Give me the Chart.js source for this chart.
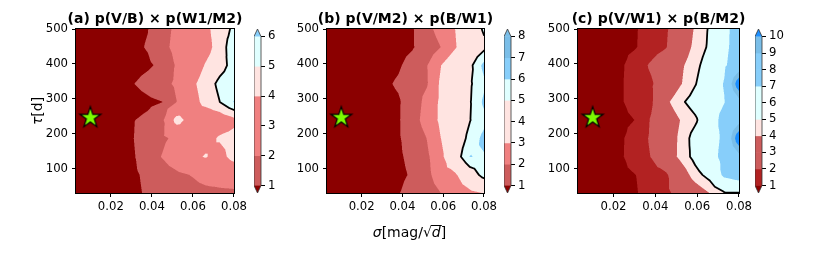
<!DOCTYPE html>
<html>
<head>
<meta charset="utf-8">
<script src="https://cdn.jsdelivr.net/npm/chart.js@4.4.1/dist/chart.umd.min.js"></script>
<style>
  body { margin: 0; background: #fff; }
  #fig { position: relative; width: 830px; height: 253px; overflow: hidden; }
  #fig canvas { position: absolute; top: 0; }
</style>
</head>
<body>
<div id="fig">
  <canvas id="panelA" width="250" height="253" style="left:0px"></canvas>
  <canvas id="panelB" width="220" height="253" style="left:280px"></canvas>
  <canvas id="panelC" width="225" height="253" style="left:530px"></canvas>
  <canvas id="barA" width="40" height="253" style="left:254px"></canvas>
  <canvas id="barB" width="40" height="253" style="left:504px"></canvas>
  <canvas id="barC" width="50" height="253" style="left:755px"></canvas>
</div>
<script>
// grid of the maps (sigma along x, tau along y)
const sigmaGrid = [0.003, 0.010, 0.017, 0.024, 0.031, 0.038, 0.045, 0.052, 0.059, 0.066, 0.073, 0.080];
const tauGrid = [30, 82, 134, 187, 239, 291, 343, 396, 448, 500];
const xTicks = [0.02, 0.04, 0.06, 0.08];
const yTicks = [100, 200, 300, 400, 500];
const starPoint = [{ x: 0.01, y: 250 }];

const titleA = "(a) p(V/B) \u00d7 p(W1/M2)";
const titleB = "(b) p(V/M2) \u00d7 p(B/W1)";
const titleC = "(c) p(V/W1) \u00d7 p(B/M2)";

const levelsA = [1, 2, 3, 4, 5, 6];
const levelsB = [1, 2, 3, 4, 5, 6, 7, 8];
const levelsC = [1, 2, 3, 4, 5, 6, 7, 8, 9, 10];
const lineLevel = 5;

// one row per tau value (bottom to top), one column per sigma value
const zA = [
  [0.25, 0.35, 0.5, 0.65, 0.85, 1.1, 1.35, 1.5, 1.6, 1.7, 1.75, 1.8],
  [0.25, 0.35, 0.45, 0.7, 0.88, 1.16, 1.45, 1.74, 2.03, 2.4, 2.6, 2.7],
  [0.2, 0.3, 0.45, 0.75, 0.94, 1.44, 2.05, 2.8, 3.6, 4.1, 3.5, 4.5],
  [0.2, 0.3, 0.45, 0.8, 0.99, 1.38, 1.78, 2.28, 2.9, 3.5, 4.15, 4.4],
  [0.2, 0.3, 0.45, 0.78, 0.97, 1.2, 1.7, 4.6, 3.4, 3.0, 3.2, 3.7],
  [0.2, 0.3, 0.4, 0.5, 0.62, 0.81, 0.99, 1.98, 3.4, 4.37, 4.99, 6.05],
  [0.2, 0.3, 0.45, 0.79, 0.98, 1.32, 1.68, 2.17, 3.67, 4.54, 5.2, 5.5],
  [0.2, 0.3, 0.4, 0.55, 0.67, 0.86, 1.21, 2.11, 3.11, 4.07, 4.68, 5.3],
  [0.2, 0.3, 0.4, 0.6, 0.83, 1.06, 1.69, 2.31, 2.93, 3.54, 4.49, 5.6],
  [0.2, 0.3, 0.4, 0.6, 0.79, 0.98, 1.57, 2.24, 2.99, 3.74, 4.47, 5.2]
];
const zB = [
  [0.2, 0.3, 0.4, 0.6, 0.78, 0.96, 1.29, 1.65, 2.01, 2.35, 2.7, 3.05],
  [0.2, 0.3, 0.4, 0.6, 0.7, 0.84, 1.09, 1.77, 2.5, 2.84, 4.19, 5.45],
  [0.2, 0.3, 0.4, 0.6, 0.72, 0.88, 1.22, 1.84, 2.7, 4.35, 6.03, 5.9],
  [0.2, 0.3, 0.4, 0.6, 0.75, 0.92, 1.37, 2.02, 3.02, 4.2, 5.3, 6.3],
  [0.2, 0.3, 0.4, 0.55, 0.73, 0.92, 1.57, 2.43, 3.2, 4.08, 4.95, 5.7],
  [0.2, 0.3, 0.4, 0.55, 0.73, 0.91, 1.45, 2.32, 3.2, 4.05, 4.9, 6.2],
  [0.2, 0.3, 0.45, 0.7, 0.86, 1.1, 1.51, 1.92, 3.2, 4.02, 4.84, 5.8],
  [0.2, 0.3, 0.4, 0.55, 0.72, 0.9, 1.31, 1.96, 3.0, 3.84, 4.67, 6.3],
  [0.2, 0.3, 0.4, 0.5, 0.6, 0.75, 0.94, 1.41, 2.02, 2.92, 3.9, 4.7],
  [0.2, 0.3, 0.4, 0.5, 0.6, 0.75, 0.94, 1.69, 2.41, 3.02, 4.18, 5.15]
];
const zC = [
  [0.2, 0.35, 0.5, 0.7, 0.96, 1.34, 1.77, 2.39, 3.2, 4.02, 4.9, 4.95],
  [0.2, 0.35, 0.5, 0.82, 1.01, 1.4, 1.79, 3.14, 4.55, 5.44, 7.37, 7.9],
  [0.2, 0.35, 0.6, 0.94, 1.4, 2.04, 3.15, 4.28, 5.38, 6.44, 7.45, 8.6],
  [0.2, 0.35, 0.6, 0.92, 1.4, 2.16, 3.15, 4.24, 5.5, 6.37, 7.3, 11.0],
  [0.2, 0.35, 0.5, 0.82, 1.03, 2.1, 3.07, 4.03, 4.78, 6.14, 7.6, 8.5],
  [0.2, 0.35, 0.6, 0.95, 1.33, 1.8, 3.72, 4.77, 5.53, 6.24, 6.95, 8.5],
  [0.2, 0.35, 0.6, 0.95, 1.36, 1.85, 2.79, 3.9, 4.92, 6.0, 7.1, 11.0],
  [0.2, 0.35, 0.6, 0.92, 1.42, 2.18, 2.98, 3.77, 4.64, 5.68, 6.79, 8.0],
  [0.2, 0.35, 0.5, 0.8, 0.98, 1.44, 1.92, 3.15, 4.31, 5.21, 6.62, 7.8],
  [0.2, 0.35, 0.5, 0.77, 0.96, 1.37, 1.83, 2.85, 4.13, 5.15, 6.59, 7.7]
];

// colours
const darkred = [139, 0, 0], firebrick = [178, 34, 34], indianred = [205, 92, 92];
const lightcoral = [240, 128, 128], mistyrose = [255, 228, 225], lightcyan = [224, 255, 255];
const lightsky = [135, 206, 250], skyblue = [122, 190, 232], dodger = [30, 144, 255];

const colorsA = [indianred, lightcoral, lightcoral, mistyrose, lightcyan];
const colorsB = [indianred, lightcoral, mistyrose, mistyrose, lightcyan, lightsky, skyblue];
const colorsC = [firebrick, indianred, indianred, mistyrose, lightcyan, lightcyan, lightsky, lightsky, skyblue];

Chart.defaults.font.family = '"DejaVu Sans"';
Chart.defaults.font.size = 11.7;
Chart.defaults.color = '#000';

function valueAt(z, vx, vy) {
  let i = 0;
  while (i < sigmaGrid.length - 2 && vx > sigmaGrid[i + 1]) i++;
  let j = 0;
  while (j < tauGrid.length - 2 && vy > tauGrid[j + 1]) j++;
  const u = (vx - sigmaGrid[i]) / (sigmaGrid[i + 1] - sigmaGrid[i]);
  const v = (vy - tauGrid[j]) / (tauGrid[j + 1] - tauGrid[j]);
  const z00 = z[j][i], z10 = z[j][i + 1], z01 = z[j + 1][i], z11 = z[j + 1][i + 1];
  const zc = (z00 + z10 + z01 + z11) / 4;
  // cell cut in 4 triangles around its centre, linear in each
  if (v <= u && v <= 1 - u) return z00 + (z10 - z00) * u + (2 * zc - z00 - z10) * v;
  if (v >= u && v >= 1 - u) return z01 + (z11 - z01) * u + (2 * zc - z01 - z11) * (1 - v);
  if (u <= v && u <= 1 - v) return z00 + (z01 - z00) * v + (2 * zc - z00 - z01) * u;
  return z10 + (z11 - z10) * v + (2 * zc - z10 - z11) * (1 - u);
}

function colorOf(v, levels, colors, under, over) {
  if (v < levels[0]) return under;
  if (v >= levels[levels.length - 1]) return over;
  let k = 0;
  while (v >= levels[k + 1]) k++;
  return colors[k];
}

function crossing(p, q, lev) {
  const t = (lev - p[2]) / (q[2] - p[2]);
  return [p[0] + t * (q[0] - p[0]), p[1] + t * (q[1] - p[1])];
}

function contourPlugin(z, levels, colors, under, over) {
  return {
    id: 'contour',
    beforeDatasetsDraw(chart) {
      const ctx = chart.ctx, a = chart.chartArea;
      const sx = chart.scales.x, sy = chart.scales.y;
      const L = Math.round(a.left), T = Math.round(a.top);
      const W = Math.round(a.right) - L, H = Math.round(a.bottom) - T;
      const img = ctx.createImageData(W, H);
      const n = 3;
      for (let py = 0; py < H; py++) {
        for (let px = 0; px < W; px++) {
          let r = 0, g = 0, b = 0;
          for (let s = 0; s < n; s++) {
            const vy = sy.getValueForPixel(T + py + (s + 0.5) / n);
            for (let k = 0; k < n; k++) {
              const vx = sx.getValueForPixel(L + px + (k + 0.5) / n);
              const c = colorOf(valueAt(z, vx, vy), levels, colors, under, over);
              r += c[0]; g += c[1]; b += c[2];
            }
          }
          const o = (py * W + px) * 4;
          img.data[o] = r / (n * n);
          img.data[o + 1] = g / (n * n);
          img.data[o + 2] = b / (n * n);
          img.data[o + 3] = 255;
        }
      }
      ctx.putImageData(img, L, T);

      // black line on level 5
      ctx.save();
      ctx.beginPath();
      ctx.rect(L, T, W, H);
      ctx.clip();
      ctx.strokeStyle = '#000';
      ctx.lineWidth = 1.8;
      ctx.lineCap = 'round';
      ctx.beginPath();
      for (let j = 0; j < tauGrid.length - 1; j++) {
        for (let i = 0; i < sigmaGrid.length - 1; i++) {
          const x0 = sx.getPixelForValue(sigmaGrid[i]), x1 = sx.getPixelForValue(sigmaGrid[i + 1]);
          const y0 = sy.getPixelForValue(tauGrid[j]), y1 = sy.getPixelForValue(tauGrid[j + 1]);
          const p00 = [x0, y0, z[j][i]], p10 = [x1, y0, z[j][i + 1]];
          const p01 = [x0, y1, z[j + 1][i]], p11 = [x1, y1, z[j + 1][i + 1]];
          const pc = [(x0 + x1) / 2, (y0 + y1) / 2, (p00[2] + p10[2] + p01[2] + p11[2]) / 4];
          [[p00, p10, pc], [p10, p11, pc], [p11, p01, pc], [p01, p00, pc]].forEach(tri => {
            const pts = [];
            [[0, 1], [1, 2], [2, 0]].forEach(e => {
              const A = tri[e[0]], B = tri[e[1]];
              if ((A[2] - lineLevel) * (B[2] - lineLevel) < 0) pts.push(crossing(A, B, lineLevel));
            });
            if (pts.length === 2) {
              ctx.moveTo(pts[0][0], pts[0][1]);
              ctx.lineTo(pts[1][0], pts[1][1]);
            }
          });
        }
      }
      ctx.stroke();
      ctx.restore();

      ctx.save();
      ctx.strokeStyle = '#000';
      ctx.lineWidth = 1;
      ctx.strokeRect(L - 0.5, T - 0.5, W + 1, H + 1);
      ctx.restore();
    }
  };
}

function drawParts(ctx, parts, cx, base) {
  const fonts = parts.map(p => (p.it ? 'italic ' : '') + '14px "DejaVu Sans"');
  let total = 0;
  const ws = parts.map((p, k) => {
    ctx.font = fonts[k];
    const w = ctx.measureText(p.t).width;
    total += w;
    return w;
  });
  let x = cx - total / 2;
  ctx.textAlign = 'left';
  ctx.textBaseline = 'alphabetic';
  parts.forEach((p, k) => {
    ctx.font = fonts[k];
    ctx.fillText(p.t, x, base);
    if (p.bar) ctx.fillRect(x - 1, base - 12, ws[k] + 2, 1);
    x += ws[k];
  });
}

function labelPlugin(title, extra) {
  return {
    id: 'labels',
    afterDraw(chart) {
      const ctx = chart.ctx, a = chart.chartArea;
      ctx.save();
      ctx.fillStyle = '#000';
      ctx.font = 'bold 14px "DejaVu Sans"';
      ctx.textAlign = 'center';
      ctx.textBaseline = 'alphabetic';
      ctx.fillText(title, (a.left + a.right) / 2, 22.5);
      if (extra) extra(ctx, chart);
      ctx.restore();
    }
  };
}

function makeStar(r) {
  const c = document.createElement('canvas');
  const s = Math.ceil(2 * r + 4);
  c.width = s; c.height = s;
  const g = c.getContext('2d');
  g.beginPath();
  for (let k = 0; k < 10; k++) {
    const rad = k % 2 === 0 ? r : r * 0.381966;
    const ang = -Math.PI / 2 + k * Math.PI / 5;
    g.lineTo(s / 2 + rad * Math.cos(ang), s / 2 + 1.5 + rad * Math.sin(ang));
  }
  g.closePath();
  g.fillStyle = '#7cfc00';
  g.fill();
  g.lineWidth = 1.2;
  g.strokeStyle = '#000';
  g.stroke();
  return c;
}
const starImg = makeStar(11);

function makePanel(id, z, levels, colors, over, title, yWidth, rightPad, extra) {
  return new Chart(document.getElementById(id), {
    type: 'scatter',
    data: {
      datasets: [{
        data: starPoint,
        pointStyle: starImg,
        pointRadius: 11,
        showLine: false
      }]
    },
    options: {
      responsive: false,
      animation: false,
      events: [],
      layout: { padding: { left: 0, right: rightPad, top: 29, bottom: 0 } },
      plugins: { legend: { display: false }, tooltip: { enabled: false } },
      scales: {
        x: {
          type: 'linear', min: 0.003, max: 0.08,
          afterBuildTicks: s => { s.ticks = xTicks.map(v => ({ value: v })); },
          afterFit: s => { s.height = 60; },
          ticks: { callback: v => v.toFixed(2), padding: 3, maxRotation: 0, autoSkip: false },
          grid: { drawOnChartArea: false, tickLength: 4, color: '#000' },
          border: { display: false }
        },
        y: {
          type: 'linear', min: 30, max: 500,
          afterBuildTicks: s => { s.ticks = yTicks.map(v => ({ value: v })); },
          afterFit: s => { s.width = yWidth; },
          ticks: { padding: 4, autoSkip: false },
          grid: { drawOnChartArea: false, tickLength: 4, color: '#000' },
          border: { display: false }
        }
      }
    },
    plugins: [contourPlugin(z, levels, colors, darkred, over), labelPlugin(title, extra)]
  });
}

function colorbarPlugin(levels, colors, under, over) {
  return {
    id: 'cbar',
    beforeDatasetsDraw(chart) {
      const ctx = chart.ctx, a = chart.chartArea, s = chart.scales.y;
      const l = a.left, r = a.right, m = (l + r) / 2;
      const n = levels.length;
      ctx.save();
      for (let k = 0; k < n - 1; k++) {
        const y1 = s.getPixelForValue(levels[k]), y2 = s.getPixelForValue(levels[k + 1]);
        ctx.fillStyle = 'rgb(' + colors[k].join(',') + ')';
        ctx.fillRect(l, y2 - 0.3, r - l, y1 - y2 + 0.6);
      }
      const yb = s.getPixelForValue(levels[0]), yt = s.getPixelForValue(levels[n - 1]);
      const ylo = s.getPixelForValue(s.min), yhi = s.getPixelForValue(s.max);
      ctx.fillStyle = 'rgb(' + under.join(',') + ')';
      ctx.beginPath(); ctx.moveTo(l, yb); ctx.lineTo(r, yb); ctx.lineTo(m, ylo); ctx.closePath(); ctx.fill();
      ctx.fillStyle = 'rgb(' + over.join(',') + ')';
      ctx.beginPath(); ctx.moveTo(l, yt); ctx.lineTo(r, yt); ctx.lineTo(m, yhi); ctx.closePath(); ctx.fill();
      ctx.strokeStyle = '#333';
      ctx.lineWidth = 0.8;
      ctx.beginPath();
      ctx.moveTo(m, yhi); ctx.lineTo(r, yt); ctx.lineTo(r, yb); ctx.lineTo(m, ylo);
      ctx.lineTo(l, yb); ctx.lineTo(l, yt); ctx.closePath();
      ctx.stroke();
      ctx.restore();
    }
  };
}

function makeBar(id, levels, colors, over, width) {
  const lo = levels[0], hi = levels[levels.length - 1];
  const ext = 0.05 * (hi - lo);
  return new Chart(document.getElementById(id), {
    type: 'scatter',
    data: { datasets: [] },
    options: {
      responsive: false,
      animation: false,
      events: [],
      layout: { padding: { left: 0, right: 0, top: 29, bottom: 60 } },
      plugins: { legend: { display: false }, tooltip: { enabled: false } },
      scales: {
        x: { display: false, min: 0, max: 1 },
        y: {
          type: 'linear', position: 'right', min: lo - ext, max: hi + ext,
          afterBuildTicks: s => { s.ticks = levels.map(v => ({ value: v })); },
          afterFit: s => { s.width = width - 7; },
          ticks: { padding: 3, autoSkip: false },
          grid: { drawOnChartArea: false, tickLength: 4, color: '#000' },
          border: { display: false }
        }
      }
    },
    plugins: [colorbarPlugin(levels, colors, darkred, over)]
  });
}

makePanel('panelA', zA, levelsA, colorsA, lightsky, titleA, 76, 8, ctx => {
  ctx.translate(36.5, 111);
  ctx.rotate(-Math.PI / 2);
  drawParts(ctx, [{ t: '\u03c4', it: true }, { t: '[d]' }], 0, 5);
});
makePanel('panelB', zB, levelsB, colorsB, skyblue, titleB, 47, 8, ctx => {
  drawParts(ctx, [{ t: '\u03c3', it: true }, { t: '[mag/' }, { t: '\u221a' }, { t: 'd', it: true, bar: true }, { t: ']' }], 129.5, 237);
});
makePanel('panelC', zC, levelsC, colorsC, dodger, titleC, 48, 11);

makeBar('barA', levelsA, colorsA, lightsky, 40);
makeBar('barB', levelsB, colorsB, skyblue, 40);
makeBar('barC', levelsC, colorsC, dodger, 50);
</script>
</body>
</html>
